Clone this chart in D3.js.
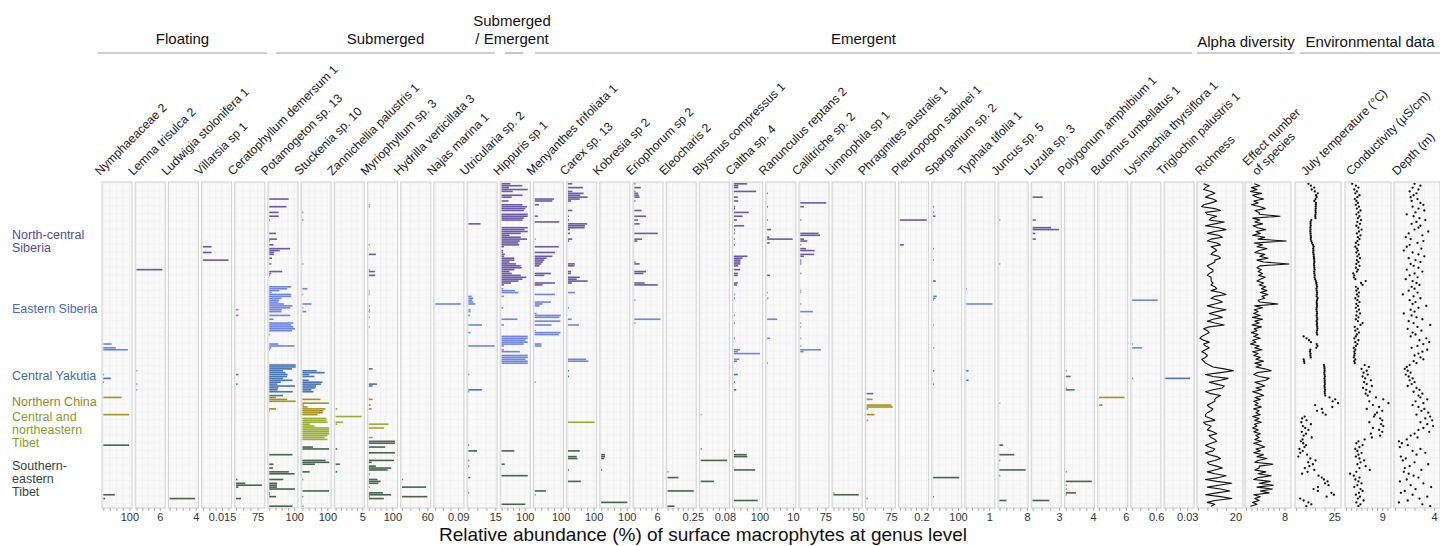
<!DOCTYPE html>
<html>
<head>
<meta charset="utf-8">
<script src="https://cdn.jsdelivr.net/npm/d3@7"></script>
<style>
  body { margin: 0; background: #fff; }
  text { font-family: "Liberation Sans", Arial, Helvetica, sans-serif; }
</style>
</head>
<body>
<svg id="chart" width="1440" height="546"></svg>
<script>
// ---------- regions (lakes ordered top to bottom) ----------
const regions = ["North-central Siberia", "Eastern Siberia", "Central Yakutia", "Northern China",
                 "Central and northeastern Tibet", "Southern-eastern Tibet"];
const regionLabelLines = [["North-central", "Siberia"], ["Eastern Siberia"], ["Central Yakutia"],
                          ["Northern China"], ["Central and", "northeastern", "Tibet"], ["Southern-", "eastern", "Tibet"]];
const regionRows = [54, 41, 17, 10, 13, 35];

// ---------- taxa ----------
const taxa = ["Nymphaeaceae 2", "Lemna trisulca 2", "Ludwigia stolonifera 1", "Villarsia sp 1",
  "Ceratophyllum demersum 1", "Potamogeton sp. 13", "Stuckenia sp. 10", "Zannichellia palustris 1",
  "Myriophyllum sp. 3", "Hydrilla verticillata 3", "Najas marina 1", "Utricularia sp. 2", "Hippuris sp 1",
  "Menyanthes trifoliata 1", "Carex sp. 13", "Kobresia sp 2", "Eriophorum sp 2", "Eleocharis 2",
  "Blysmus compressus 1", "Caltha sp. 4", "Ranunculus reptans 2", "Callitriche sp. 2", "Limnophila sp 1",
  "Phragmites australis 1", "Pleuropogon sabinei 1", "Sparganium sp. 2", "Typhala tifolia 1", "Juncus sp. 5",
  "Luzula sp. 3", "Polygonum amphibium 1", "Butomus umbellatus 1", "Lysimachia thyrsiflora 1",
  "Triglochin palustris 1"];
const axisMax   = [110, 7.4, 4.4, 0.0225, 100, 115, 115, 5.4, 122, 68, 0.1125, 16, 124, 111, 112, 112, 7.6,
                   0.284, 0.095, 112, 11.1, 86, 58, 88, 0.267, 115, 1.25, 8.3, 3.26, 4.2, 6.4, 0.72, 0.0395];
const tickLabel = [100, 6, 4, 0.015, 75, 100, 100, 5, 100, 60, 0.09, 15, 100, 100, 100, 100, 6,
                   0.25, 0.08, 100, 10, 75, 50, 75, 0.2, 100, 1, 8, 3, 4, 6, 0.6, 0.03];
const tickStep  = [25, 1.5, 1, 0.005, 25, 25, 25, 1, 25, 20, 0.03, 5, 25, 25, 25, 25, 1.5,
                   0.05, 0.02, 25, 2.5, 25, 10, 25, 0.05, 25, 0.25, 2, 1, 1, 1.5, 0.2, 0.01];

// ---------- relative abundance per lake: [lake row, value] ----------
const nymphaeaceae = [[84,32],[86,48],[87,94],[100,2],[102,29],[104,2],[112,70],[121,99],[137,99],[163,44],[165,7]];
const lemnaTrisulca = [[45,6.7],[98,0.2],[105,0.2],[108,0.2]];
const ludwigia = [[165,3.9]];
const villarsia = [[33,0.0068],[36,0.0068],[40,0.02]];
const ceratophyllum = [[66,8],[69,8],[100,8],[105,5],[155,5],[157,32],[158,90],[159,8],[165,17]];
const potamogeton = [[8,78],[12,69],[15,38],[17,38],[19,3],[26,27],[29,31],[30,3],[32,17],[34,83],[35,42],[36,20],
  [37,18],[39,11],[42,8],[46,52],[47,8],[48,3],[54,88],[55,72],[56,41],[57,10],[58,88],[59,88],[60,49],[61,40],
  [62,37],[63,59],[64,93],[65,84],[66,50],[67,49],[69,84],[71,17],[73,97],[74,88],[75,97],[76,103],[77,91],[79,3],
  [84,36],[85,101],[86,8],[87,3],[95,106],[96,106],[97,91],[98,55],[99,65],[100,74],[101,72],[102,56],[103,93],
  [104,46],[105,33],[106,103],[107,36],[108,33],[109,94],[111,55],[112,27],[113,72],[114,106],[118,27],[119,3],
  [142,93],[147,17],[149,15],[151,78],[152,101],[155,56],[157,31],[158,31],[159,31],[160,103],[162,3],[163,3],
  [164,27],[169,93]];
const stuckenia = [[15,3],[19,3],[42,3],[55,20],[58,3],[63,36],[65,3],[67,15],[98,57],[99,89],[100,27],[101,48],
  [103,25],[104,80],[105,74],[106,54],[107,52],[108,36],[109,44],[113,72],[115,106],[116,6],[117,21],[118,92],
  [119,84],[120,81],[121,61],[123,96],[124,96],[125,100],[126,29],[127,49],[128,107],[129,107],[130,107],
  [131,107],[132,100],[133,89],[134,100],[138,42],[139,107],[145,93],[146,107],[147,50],[151,29],[155,3],
  [161,107],[164,3],[169,3]];
const zannichellia = [[118,0.3],[122,4.9],[125,1.4],[126,0.3],[139,0.3],[147,0.8],[151,0.3]];
const myriophyllum = [[11,3],[12,3],[32,3],[37,30],[45,3],[46,26],[48,27],[56,3],[57,3],[58,3],[64,5],[66,5],
  [67,5],[70,3],[75,3],[97,16],[105,34],[106,16],[113,16],[116,8],[118,12],[126,84],[128,65],[133,17],[135,111],
  [136,111],[138,70],[141,111],[145,107],[146,12],[148,30],[149,95],[150,80],[152,3],[155,37],[156,50],[157,41],
  [159,3],[162,60],[163,95],[164,3],[165,64]];
const hydrilla = [[155,1],[159,57],[164,60]];
const najas = [[63,0.1]];
const utricularia = [[21,6.8],[59,1.8],[60,2.7],[61,2.1],[62,2.7],[63,3.9],[66,1.2],[67,1.2],[69,0.9],[74,7.6],
  [78,1.2],[85,14.6],[100,0.5],[108,7.5],[109,0.5],[137,0.3],[140,4.8],[145,0.5],[148,0.5],[154,1],[162,0.3]];
const hippuris = [[0,38],[1,90],[2,32],[3,113],[4,48],[6,90],[7,44],[9,30],[11,90],[12,110],[13,103],[14,96],
  [16,113],[17,113],[18,96],[19,90],[23,113],[24,99],[25,113],[26,83],[27,34],[28,83],[29,110],[30,79],[31,72],
  [32,76],[33,10],[35,7],[36,7],[37,14],[38,10],[39,55],[40,55],[41,34],[42,62],[43,83],[44,87],[45,55],[46,34],
  [47,44],[48,83],[49,107],[50,90],[51,73],[52,41],[53,10],[55,7],[56,58],[57,73],[59,10],[65,7],[71,69],[74,10],
  [80,113],[81,113],[82,103],[83,113],[84,96],[85,10],[87,10],[88,79],[90,113],[91,113],[92,103],[93,113],
  [94,113],[140,55],[147,14],[153,113],[168,103]];
const menyanthes = [[8,74],[9,68],[11,16],[17,12],[20,95],[29,3],[33,93],[36,78],[38,68],[39,46],[40,37],[41,31],
  [42,25],[43,18],[47,62],[48,37],[52,78],[53,30],[58,78],[62,62],[63,30],[64,18],[68,7],[69,101],[70,95],[72,99],
  [74,65],[77,4],[78,99],[79,93],[84,26],[85,26],[104,3],[161,43],[163,3]];
const carex = [[0,17],[2,58],[4,17],[5,61],[6,48],[7,77],[8,46],[9,12],[14,17],[17,4],[19,4],[21,75],[22,67],
  [23,65],[24,8],[26,8],[29,17],[30,4],[42,27],[43,25],[46,12],[47,12],[49,46],[50,34],[51,77],[52,15],[57,27],
  [65,4],[71,15],[74,43],[92,71],[93,80],[98,4],[101,4],[125,104],[140,46],[143,34],[144,37],[150,4],[156,50]];
const kobresia = [[142,15],[143,15],[144,12],[150,4],[167,102]];
const eriophorum = [[0,0.3],[2,1.7],[4,0.3],[5,1.0],[6,1.2],[7,1.4],[9,0.3],[14,1.9],[17,3.1],[19,1.0],[21,1.4],
  [26,6.2],[29,2.0],[30,0.8],[41,0.3],[42,1.4],[46,3.1],[47,2.4],[52,2.7],[53,6.2],[61,0.3],[71,6.9],[73,0.3]];
const eleocharis = [[151,0.005],[154,0.107],[161,0.259],[169,0.069]];
const blysmus = [[121,0.003],[139,0.003],[145,0.087],[156,0.044]];
const caltha = [[0,52],[1,17],[2,17],[4,87],[7,15],[9,17],[12,4],[13,4],[15,58],[17,34],[19,12],[22,40],[24,4],
  [26,4],[29,4],[32,4],[38,53],[39,34],[40,26],[41,25],[42,25],[43,17],[45,24],[47,15],[48,15],[52,15],[53,12],
  [58,4],[60,4],[69,4],[73,4],[81,4],[87,24],[88,15],[89,102],[92,21],[93,12],[100,15],[104,4],[108,9],[140,4],
  [142,50],[143,52],[150,83],[166,93]];
const ranunculus = [[5,0.2],[12,0.1],[19,0.1],[24,1.5],[28,0.8],[29,9.9],[31,1.0],[48,1.1],[57,0.3],[60,0.5],
  [71,3.9],[81,1.1],[94,0.1]];
const callitriche = [[10,78],[12,11],[19,3],[26,55],[27,59],[29,11],[30,21],[32,3],[34,17],[35,43],[37,41],[38,11],
  [40,3],[41,3],[42,3],[47,3],[56,3],[57,3],[63,3],[67,38],[73,3],[75,3],[81,3],[85,3],[87,62],[88,10]];
const limnophila = [[162,1],[163,51]];
const phragmites = [[110,20],[113,18],[116,76],[117,80],[118,5],[121,24],[124,5],[165,3]];
const pleuropogon = [[19,0.25],[32,0.036]];
const sparganium = [[12,3],[15,3],[17,10],[34,3],[40,3],[51,11],[59,15],[60,10],[61,3],[74,3],[86,5],[98,5],
  [105,3],[154,105],[164,3]];
const typha = [[55,0.02],[63,1.14],[98,0.1],[103,0.1]];
const juncus = [[19,0.1],[42,0.1],[115,0.1],[137,1.1],[142,4.3],[145,0.1],[150,7.6],[153,0.1],[166,2.0]];
const luzula = [[7,1.15],[19,0.36],[23,2.1],[24,3.0],[26,0.3],[29,0.36],[166,1.9]];
const polygonum = [[98,0.1],[101,0.7],[107,0.1],[108,1.3],[151,0.1],[156,3.8],[158,0.1],[160,0.1],[162,1.5],[163,0.1]];
const butomus = [[112,5.7],[116,0.8]];
const lysimachia = [[61,0.64],[84,0.02],[86,0.25],[102,0.02]];
const triglochin = [[102,0.034]];

const taxonSeries = [nymphaeaceae, lemnaTrisulca, ludwigia, villarsia, ceratophyllum, potamogeton, stuckenia,
  zannichellia, myriophyllum, hydrilla, najas, utricularia, hippuris, menyanthes, carex, kobresia, eriophorum,
  eleocharis, blysmus, caltha, ranunculus, callitriche, limnophila, phragmites, pleuropogon, sparganium, typha,
  juncus, luzula, polygonum, butomus, lysimachia, triglochin];

// ---------- alpha diversity and environment, one value per lake ----------
const richness = [3,6,4,3,7,9,6,4,8,10, 7,3,2,9,12,4,5,10,7,6, 14,9,4,11,15,9,5,11,13,7, 5,10,12,7,9,10,8,7,11,12,
  9,9,7,5,6,8,8,6,5,7, 7,7,8,7,9,10,7,12,15,9, 7,11,13,9,5,9,15,10,6,10, 13,8,5,9,14,6,3,5,6,4,
  2,1,3,6,3,4,6,4,2,4, 5,4,2,3,4,6,8,14,19,12, 4,8,16,12,6,10,14,13,8,4, 7,12,10,9,9,7,5,6,8,7,
  5,4,4,7,9,3,4,7,6,5, 8,10,6,7,9,10,7,4,6,9, 8,4,6,10,12,9,5,6,10,13, 9,5,9,15,11,4,10,18,11,5,
  12,17,10,4,12,18,9,5,9,7];
const effectiveNumber = [2.5,3.5,2,3,1.8,3.8,2.2,3,4.2,2.4, 3.2,2,3.6,4.5,2.6,3.4,3.4,7.2,2.2,3.5,
  2.6,4,2.3,3.1,4.6,2.8,3.6,2.2,4.4,3.2, 8.3,2.5,4,3,4.8,3.4,2.6,4.4,3.5,5, 3,4.2,8.8,3.6,3,3.8,3.2,4,3.3,4.5,
  3.6,3,4.2,3.4,4.6,3.8,4.8,3.6,5,3.9, 4.4,3.2,3.5,6.8,2.6,4,2.5,3.2,2.4,3.6, 2.2,4,2.6,3.4,2.1,3.8,2.5,3,2,3.2,
  2.4,3.6,2.2,2.8,1.8,3.4,2.6,3.9,2.2,3.2, 2.4,3.6,2.8,4.2,2.6,3.8,2.8,4.4,5.6,3, 2.4,3.4,5.2,4.6,2.6,3.6,4.4,2.8,3.8,2.2,
  3.4,4.2,2.6,3.6,2.4,3.2,2.6,3.8,2.4,3.4, 2.8,3.6,2.2,3.4,2.6,3.8,2.5,3,2.2,3.2, 2.4,3.6,2.8,3.4,2.6,3.8,2.4,3.6,4.4,2.8,
  3.6,2.4,4.2,3,4.8,3.2,2.6,5.9,3.4,3.4, 2.6,4.6,3.2,5.6,3.2,2.4,5.4,3.4,6,3, 5.8,3.6,5.2,2.4,3.6,2.6,3.4,2.2,3,1.8];
const julyTemperature = [11.5,12.8,14.5,13.2,14.8,16.4,15.5,15.8,15.2,14.6, 15.4,15.4,15.3,15.3,15.2,15.3,15.2,15.1,15.2,13.0,
  12.6,12.6,12.7,12.5,12.6,12.5,12.6,12.7,12.8,12.7, 13.0,13.4,13.8,14.2,14.0,14.1,14.0,14.2,14.3,14.4,
  14.5,14.6,14.4,14.5,14.6,14.7,14.5,14.6,14.8,14.7, 15.0,15.4,15.6,15.8,16.0,15.7,15.8,16.0,15.9,15.8,
  16.3,16.0,15.8,15.9,16.0,15.8,15.7,15.9,16.0,15.8, 15.9,16.1,15.8,16.0,15.9,16.1,16.2,16.0,15.8,16.1,
  9.0,10.5,11.8,12.8,15.8,16.2,15.6,12.5,12.3,12.6, 12.5,12.7,9.0,9.2,9.4,
  19.6,19.8,19.9,20.0,19.8,19.9,20.1,19.9,20.0,20.0,20.1,19.9,20.0,20.2,20.0,20.1,20.3,
  22.5,25.5,24.2,27.0,15.0,24.0,18.5,16.0,19.0,20.5,
  9.5,8.2,10.5,7.8,12.8,8.6,9.8,11.5,8.0,10.2,9.0,13.2,8.4,
  7.5,8.8,10.2,9.4,6.8,8.5,7.2,10.8,6.2,12.5, 15.2,11.4,13.8,12.0,9.6,14.6,11.0,8.2,16.8,18.5,
  19.6,21.5,20.2,22.0,16.5,14.2,16.4,23.5,24.8,21.0, 7.2,9.0,11.5,13.0,10.4];
const conductivity = [3.2,3.9,4.4,3.6,4.1,3.8,4.6,4.2,3.7,4.0, 4.3,3.9,4.5,4.1,4.8,4.4,4.0,4.6,4.3,4.9,
  4.2,4.7,4.0,4.4,5.0,4.5,4.1,4.8,4.3,4.6, 4.2,3.9,4.4,3.8,4.1,4.3,4.0,4.5,4.2,4.7,
  4.1,4.4,4.0,4.6,3.9,4.3,4.1,3.4,3.6,3.5, 3.8,5.8,4.9,5.2,3.9,4.3,4.0,4.5,4.1,4.4,
  3.8,4.2,4.6,4.0,4.3,3.9,4.5,4.1,4.7,4.0, 4.4,3.9,4.3,5.2,4.8,3.7,4.2,3.8,4.5,4.1,
  3.9,3.6,4.4,3.8,4.2,3.9,3.5,3.8,3.6,3.7, 3.6,3.5,3.8,3.6,3.7,
  5.6,6.4,5.0,6.0,5.4,6.2,5.2,5.7,6.8,5.5,6.0,7.0,5.3,5.9,6.6,5.8,6.2,
  7.8,9.2,6.5,10.2,7.2,8.4,6.0,9.0,8.0,7.6,
  7.4,8.6,9.0,6.5,8.8,9.2,7.2,8.4,9.0,6.8,8.6,7.0,5.6,
  4.4,4.0,5.2,4.6,3.8,4.2,5.0,4.4,3.9,4.6, 5.5,4.8,4.2,5.8,4.6,6.6,4.0,2.8,3.5,4.6,
  3.8,4.4,5.0,4.2,3.6,4.8,5.2,4.5,3.9,4.7, 4.3,5.4,4.0,4.8,4.4];
const depth = [2.0,2.6,1.8,2.4,1.5,2.2,1.9,1.6,2.3,1.7, 2.6,2.9,1.8,2.4,3.0,2.1,1.2,1.9,2.5,3.1,
  2.2,1.7,2.6,2.4,2.0,3.4,1.4,2.8,1.1,1.6, 2.9,2.3,1.5,1.2,2.7,0.9,1.8,2.4,3.0,1.4,
  2.1,2.6,1.6,1.9,2.4,1.2,2.8,2.0,1.5,2.3, 1.1,1.8,2.2,2.5,1.7,2.0,1.4,2.3,0.8,1.9,
  2.6,1.5,2.1,1.8,3.2,2.4,1.6,2.0,0.9,1.7, 2.2,2.8,1.4,1.9,3.6,2.3,1.3,2.7,1.8,2.1,
  1.6,3.2,2.5,3.5,2.9,2.3,1.7,3.3,2.8,2.4, 2.0,2.6,2.9,1.9,2.2,
  1.5,1.2,1.0,1.3,1.6,1.1,1.4,1.8,1.5,2.0,1.7,1.3,2.2,2.5,1.9,2.8,2.4,
  2.6,3.3,2.1,2.9,1.8,2.4,3.0,2.7,3.4,2.2,
  3.6,3.1,3.8,2.6,3.3,3.9,2.9,2.4,3.5,2.0,1.6,2.3,1.2,
  0.4,0.7,1.3,0.5,2.6,1.8,3.1,2.2,0.6,1.1, 0.8,2.0,3.4,1.5,1.0,2.7,0.9,1.4,1.9,2.4,
  1.2,0.5,2.9,1.6,3.7,2.1,1.0,0.6,1.8,3.3, 2.5,1.3,0.4,2.8,3.6];

const wideNames  = [["Richness"], ["Effect number", "of species"], ["July temperature (°C)"],
                    ["Conductivity (µS/cm)"], ["Depth (m)"]];
const wideSeries = [richness, effectiveNumber, julyTemperature, conductivity, depth];
const wideDomain = [[0, 23.5], [1, 9], [5, 28], [2, 10.5], [0, 4.5]];
const wideTicks  = [[0, 5, 10, 15, 20], [1, 2, 3, 4, 5, 6, 7, 8], [5, 10, 15, 20, 25], [2, 3, 4, 5, 6, 7, 8, 9, 10], [0, 1, 2, 3, 4]];
const wideLabel  = [20, 8, 25, 9, 4];
const wideMark   = ["line", "line", "dot", "dot", "dot"];

const groups = [
  { lines: ["Floating"], x0: 98, x1: 267 },
  { lines: ["Submerged"], x0: 276, x1: 495 },
  { lines: ["Submerged", "/ Emergent"], x0: 505, x1: 523 },
  { lines: ["Emergent"], x0: 535, x1: 1192 },
  { lines: ["Alpha diversity"], x0: 1197, x1: 1295 },
  { lines: ["Environmental data"], x0: 1300, x1: 1440 }
];

// ---------- styling ----------
const barColors   = ["#6b5aa9", "#6f85e4", "#4874b4", "#a6911f", "#98af2d", "#4b6352"];
const labelColors = ["#5a4a9a", "#4a64dc", "#3d6bab", "#9a8620", "#86a02a", "#34463b"];
const regionLabelShift = [6.5, -16, -5, -4.5, 2, 5];
const wideLabelShift = [3, 12, 11, 6, 3];

// ---------- layout ----------
const svg = d3.select("#chart");
const plotTop = 182, plotBottom = 508;
const taxonLeft0 = 102, taxonPitch = 33.19, taxonWidth = 30;
const wideLeft = [1197, 1245, 1295, 1345, 1394], wideWidth = 46;

const nRows = d3.sum(regionRows);
const rowRegion = regionRows.flatMap((n, i) => d3.range(n).map(() => i));
const y = d3.scaleBand().domain(d3.range(nRows)).range([plotTop + 1, plotBottom - 1]).paddingInner(0.16);
const yMid = i => y(i) + y.bandwidth() / 2;

function panelFrame(g, left, width, x, ticks) {
  g.append("rect").attr("x", left).attr("y", plotTop).attr("width", width)
    .attr("height", plotBottom - plotTop).attr("fill", "#f9f9f9");
  // faint background grid
  g.selectAll("line.vg").data(ticks).join("line").attr("class", "vg")
    .attr("x1", d => x(d)).attr("x2", d => x(d)).attr("y1", plotTop).attr("y2", plotBottom)
    .attr("stroke", "#ececec").attr("stroke-width", 0.6);
  g.selectAll("line.hg").data(d3.range(0, nRows, 4)).join("line").attr("class", "hg")
    .attr("x1", left).attr("x2", left + width).attr("y1", d => y(d)).attr("y2", d => y(d))
    .attr("stroke", "#efefef").attr("stroke-width", 0.5);
}
function panelBorder(g, left, width) {
  g.append("rect").attr("x", left).attr("y", plotTop).attr("width", width)
    .attr("height", plotBottom - plotTop).attr("fill", "none")
    .attr("stroke", "#d6d6d6").attr("stroke-width", 1.2);
}
function panelAxis(g, x, ticks, label) {
  const axis = d3.axisBottom(x).tickValues(ticks).tickSize(3).tickPadding(2)
    .tickFormat(d => Math.abs(d - label) < 1e-9 ? String(label) : "");
  const a = g.append("g").attr("transform", `translate(0,${plotBottom})`).attr("color", "#333").call(axis);
  a.select(".domain").remove();
  a.selectAll(".tick line").attr("stroke", "#9a9a9a").attr("stroke-width", 0.8);
  a.selectAll(".tick text").attr("fill", "#333").style("font-size", "11px")
    .style("font-family", '"Liberation Sans", Arial, sans-serif');
}
function rotatedLabel(x0, y0, lines) {
  const t = svg.append("text").attr("transform", `translate(${x0},${y0}) rotate(-45)`)
    .attr("fill", "#1a1a1a").style("font-size", "12.2px");
  const lh = 1.1;
  lines.forEach((s, k) => t.append("tspan").attr("x", 0)
    .attr("dy", k === 0 ? `${-(lines.length - 1) * lh}em` : `${lh}em`).text(s));
}

// ---------- taxon panels ----------
taxa.forEach((name, i) => {
  const left = taxonLeft0 + i * taxonPitch;
  const x = d3.scaleLinear().domain([0, axisMax[i]]).range([left + 1.3, left + taxonWidth]);
  const ticks = d3.range(0, axisMax[i] + 1e-12, tickStep[i]).filter(d => x(d) <= left + taxonWidth - 0.5);
  const g = svg.append("g");
  panelFrame(g, left, taxonWidth, x, ticks);
  g.selectAll("rect.bar").data(taxonSeries[i]).join("rect").attr("class", "bar")
    .attr("x", x(0)).attr("y", d => y(d[0]))
    .attr("width", d => Math.max(0.8, x(d[1]) - x(0))).attr("height", y.bandwidth())
    .attr("fill", d => barColors[rowRegion[d[0]]]);
  panelBorder(g, left, taxonWidth);
  panelAxis(g, x, ticks, tickLabel[i]);
  rotatedLabel(left - 2, 176, [name]);
});

// ---------- alpha diversity and environmental panels ----------
wideSeries.forEach((vals, j) => {
  const left = wideLeft[j];
  const x = d3.scaleLinear().domain(wideDomain[j]).range([left + 1, left + wideWidth - 1]);
  const g = svg.append("g");
  panelFrame(g, left, wideWidth, x, wideTicks[j]);
  if (wideMark[j] === "line") {
    const line = d3.line().x(d => x(d)).y((d, i) => yMid(i));
    g.append("path").datum(vals).attr("d", line).attr("fill", "none")
      .attr("stroke", "#111").attr("stroke-width", 1.1).attr("stroke-linejoin", "round");
  } else {
    g.selectAll("circle").data(vals).join("circle")
      .attr("cx", d => x(d)).attr("cy", (d, i) => yMid(i)).attr("r", 1.15).attr("fill", "#111");
  }
  panelBorder(g, left, wideWidth);
  panelAxis(g, x, wideTicks[j], wideLabel[j]);
  rotatedLabel(left + wideLabelShift[j], 176, wideNames[j]);
});

// ---------- group headers ----------
groups.forEach(gr => {
  const cx = (gr.x0 + gr.x1) / 2;
  const base = gr.x0 > 1190 ? 47 : 44;
  gr.lines.forEach((s, k) => {
    svg.append("text").attr("x", cx + (gr.lines.length > 1 ? -2 : 0))
      .attr("y", base - (gr.lines.length - 1 - k) * 18).attr("text-anchor", "middle")
      .attr("fill", "#111").style("font-size", "15px").text(s);
  });
  svg.append("line").attr("x1", gr.x0).attr("x2", gr.x1).attr("y1", 53).attr("y2", 53)
    .attr("stroke", "#a0a0a0").attr("stroke-width", 1.2);
});

// ---------- region labels ----------
let start = 0;
regionRows.forEach((n, i) => {
  const cy = (yMid(start) + yMid(start + n - 1)) / 2 + regionLabelShift[i];
  const lines = regionLabelLines[i];
  const lh = 13;
  lines.forEach((s, k) => {
    svg.append("text").attr("x", 12)
      .attr("y", cy + (k - (lines.length - 1) / 2) * lh + 4.5)
      .attr("fill", labelColors[i]).style("font-size", "12.5px").text(s);
  });
  start += n;
});

// ---------- x-axis title ----------
svg.append("text").attr("x", 703).attr("y", 541).attr("text-anchor", "middle")
  .attr("fill", "#111").style("font-size", "19px")
  .text("Relative abundance (%) of surface macrophytes at genus level");
</script>
</body>
</html>
